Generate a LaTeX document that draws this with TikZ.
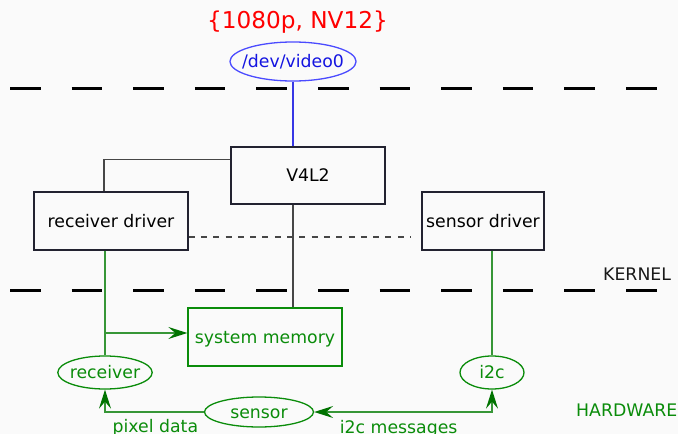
\documentclass[tikz,border=0pt]{standalone}
\usepackage{fontspec}
\setmainfont{DejaVu Sans}
\usetikzlibrary{
  arrows.meta,
  shapes.geometric
}

\definecolor{pagebg}{RGB}{250,250,250}
\definecolor{fmtred}{RGB}{255,0,0}
\definecolor{devblue}{RGB}{20,20,225}
\definecolor{devring}{RGB}{75,75,255}
\definecolor{swdark}{RGB}{34,34,48}
\definecolor{swgrey}{RGB}{70,70,70}
\definecolor{hwgreen}{RGB}{10,140,10}
\definecolor{hwline}{RGB}{55,150,55}
\definecolor{hwtip}{RGB}{0,115,0}

\tikzset{
  every node/.style={font=\fontsize{17.3}{20}\selectfont},
  layer/.style={line width=3pt,black,dash pattern=on 30.5pt off 31.1pt},
  fixtext/.style={text height=12.6pt,text depth=0pt},
  swbox/.style={draw=swdark,line width=1.3pt,fill=pagebg,fixtext,
    inner sep=0pt,minimum height=58pt},
  hwbox/.style={swbox,draw=hwgreen,text=hwgreen},
  hwoval/.style={ellipse,draw=hwgreen,text=hwgreen,line width=1.3pt,
    fixtext,inner sep=0pt,minimum height=33pt},
  swwire/.style={swgrey,line width=1.3pt},
  hwwire/.style={hwline,line width=1.4pt},
  hwtipped/.style={hwwire,arrows={-Stealth[length=19pt,width=12pt,inset=7pt,fill=hwtip,hwtip]}},
  hwlabel/.style={text=hwgreen,inner sep=0pt}
}

\begin{document}
\begin{tikzpicture}[x=1pt,y=-1pt]
  \fill[pagebg] (0,0) rectangle (678,434);
  \useasboundingbox (0,0) rectangle (678,434);

  % userspace / kernel / hardware borders
  \draw[layer] (10,88) -- (657,88);
  \draw[layer] (10,290) -- (657,290);
  \path (603,280) node[anchor=base west,inner sep=0pt,text=black!90] {KERNEL};
  \path (576,416) node[anchor=base west,inner sep=0pt,text=hwgreen] {HARDWARE};

  % video node and its format
  \node[anchor=base,text=fmtred,font=\fontsize{23.2}{26}\selectfont] (fmt) at (297.5,28) {\{1080p, NV12\}};
  \node[ellipse,draw=devring,text=devblue,line width=1.3pt,fixtext,
    inner ysep=0pt,inner xsep=-6.3pt,minimum height=39pt] (video0) at (293,61.5) {/dev/video0};

  % kernel side
  \node[swbox,minimum width=154pt,minimum height=57pt] (v4l2) at (308,175.5) {V4L2};
  \node[swbox,minimum width=154pt] (rxdrv) at (111,221) {receiver driver};
  \node[swbox,minimum width=122pt] (sndrv) at (483,221) {sensor driver};

  % hardware side
  \node[hwbox,minimum width=154pt] (sysmem) at (265,337) {system memory};
  \node[hwoval,inner xsep=-1.8pt] (rx) at (105,372.5) {receiver};
  \node[hwoval,minimum width=64pt] (i2c) at (492,372.5) {i2c};
  \node[hwoval,minimum width=109pt,minimum height=30pt] (sensor) at (259,412) {sensor};

  \draw[devblue!85,line width=1.3pt] (video0.south) -- (video0.south |- v4l2.north);
  \draw[swwire] ([yshift=-13pt]v4l2.north west) -| ([xshift=-7pt]rxdrv.north);
  \draw[swwire] (v4l2.south -| video0.south) -- (sysmem.north -| video0.south);
  \draw[swwire,line width=1.2pt,dash pattern=on 6pt off 6.3pt]
    ([yshift=-16pt]rxdrv.east) -- ([yshift=-16pt,xshift=-10pt]sndrv.west);

  \draw[hwwire] (rx.north |- rxdrv.south) -- (rx.north);
  \draw[hwwire] (i2c.north |- sndrv.south) -- (i2c.north);
  \coordinate (memin) at ([yshift=4pt]sysmem.west);
  \draw[hwtipped] (rx.north |- memin) -- (memin);

  \draw[hwtipped] (sensor.west) -| (rx.south)
    node[pos=0.5,hwlabel,anchor=base west,xshift=7pt,yshift=-20pt] {pixel data};
  \draw[hwtipped,arrows={Stealth[length=19pt,width=12pt,inset=7pt,fill=hwtip,hwtip]-Stealth[length=19pt,width=12pt,inset=7pt,fill=hwtip,hwtip]}]
    (sensor.east) -| (i2c.south)
    node[pos=0,hwlabel,anchor=base west,xshift=25pt,yshift=-21pt] {i2c messages};
\end{tikzpicture}
\end{document}
